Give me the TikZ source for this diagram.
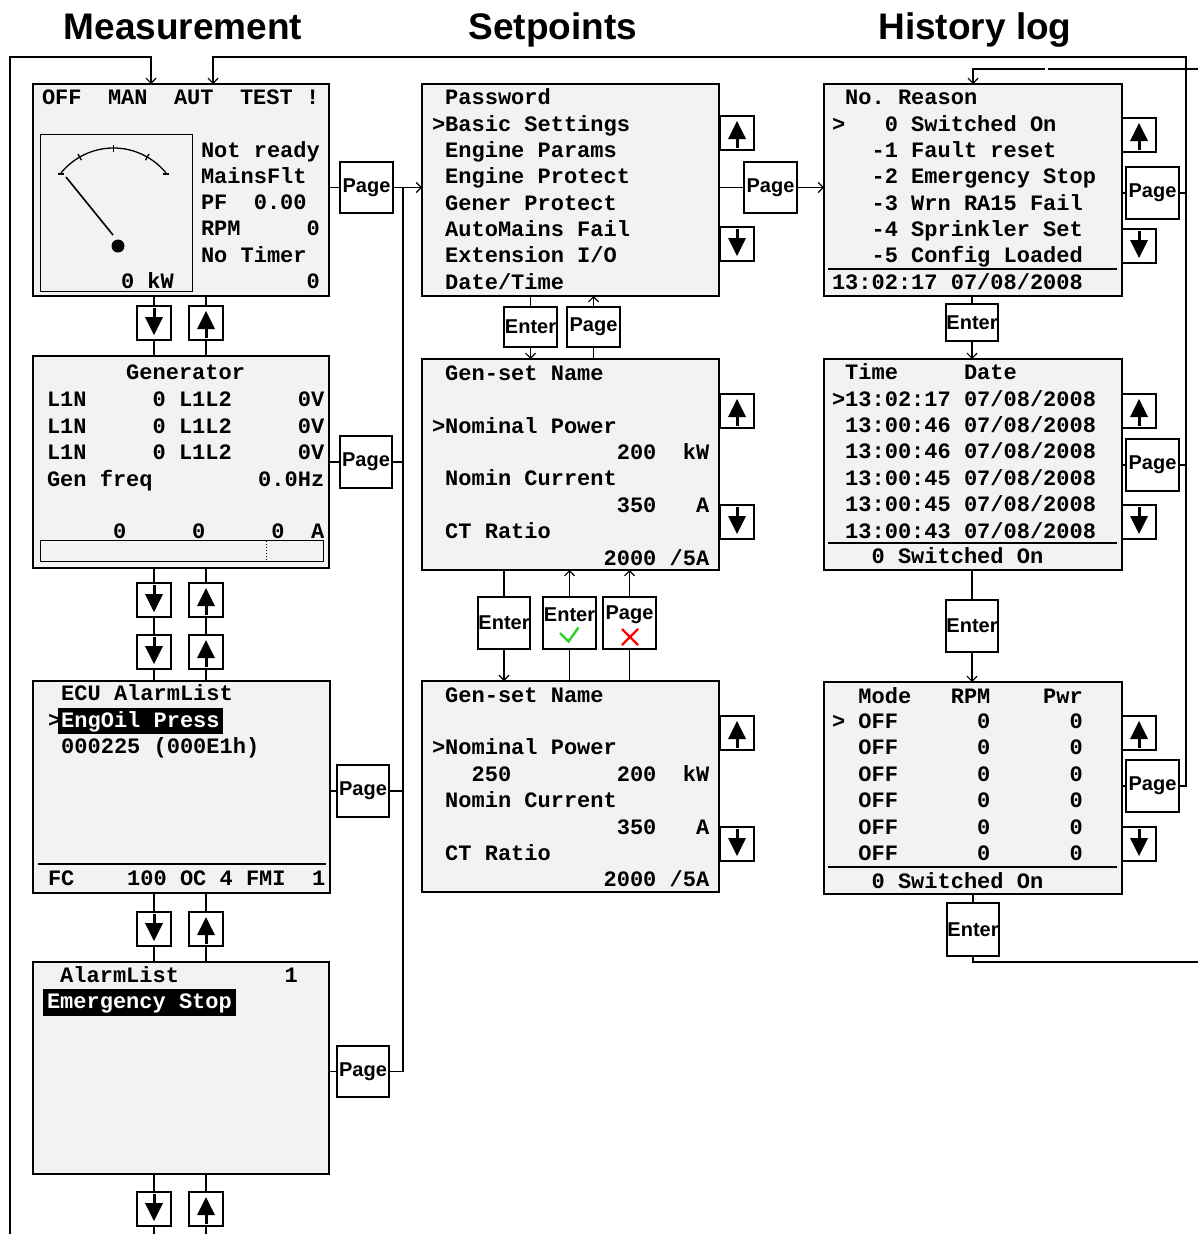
\documentclass[tikz,border=0pt]{standalone}
\usepackage{fontspec}
\setmainfont{Liberation Sans}
\newfontfamily\lcd{Liberation Mono}
\usetikzlibrary{calc,arrows.meta}
\definecolor{lcdgray}{RGB}{242,242,242}
\definecolor{okgreen}{RGB}{40,210,40}
\definecolor{nored}{RGB}{255,0,0}
\newcommand\lcdfont{\lcd\bfseries\fontsize{22}{26}\selectfont}
\newcommand\btnfont{\bfseries\fontsize{20}{24}\selectfont}
\newcommand\titlefont{\bfseries\fontsize{37}{44}\selectfont}
\newcommand\pnl[5]{\node[panelbox,anchor=north west,minimum width=#4pt,minimum height=#5pt] (#1) at (#2,#3) {};}
\newcommand\btn[6]{\node[btnbox,anchor=north west,minimum width=#4pt,minimum height=#5pt] (#1) at (#2,#3) {#6};}
\newcommand\lcdline[4]{\node[mtext] (#1) at (#2,#3) {#4};}
\newcommand\upbtn[3]{\node[btnbox,anchor=north west,minimum width=34pt,minimum height=34pt] (#1) at (#2,#3) {};
  \fill ($(#1.north)+(0,5)$) -- ($(#1.north)+(9,23)$) -- ($(#1.north)+(-9,23)$) -- cycle;
  \draw[line width=3pt] ($(#1.north)+(0,20)$) -- ($(#1.north)+(0,32)$);}
\newcommand\dnbtn[3]{\node[btnbox,anchor=north west,minimum width=34pt,minimum height=34pt] (#1) at (#2,#3) {};
  \fill ($(#1.north)+(0,29)$) -- ($(#1.north)+(9,11)$) -- ($(#1.north)+(-9,11)$) -- cycle;
  \draw[line width=3pt] ($(#1.north)+(0,2)$) -- ($(#1.north)+(0,14)$);}
\begin{document}
\begin{tikzpicture}[x=1pt,y=-1pt,
  panelbox/.style={draw,line width=2.6pt,fill=lcdgray,inner sep=0pt,outer sep=0pt},
  btnbox/.style={draw,line width=1.3pt,fill=white,inner sep=0pt,outer sep=0pt,font=\btnfont},
  conn/.style={line width=1.2pt},
  arr/.style={conn,-{Straight Barb[length=5pt,width=10pt]}},
  mtext/.style={inner sep=0pt,outer sep=0pt,anchor=base west,font=\lcdfont},
  thinline/.style={line width=1.3pt},
  titletext/.style={font=\titlefont,anchor=base,inner sep=0pt}]
\fill[white] (0,0) rectangle (1198,1234);
\useasboundingbox (0,0) rectangle (1198,1234);

% titles
\node[titletext] (title1) at (183,39) {Measurement};
\node[titletext] (title2) at (553,39) {Setpoints};
\node[titletext] (title3) at (975,39) {History log};

% ================= Measurement =================
\pnl{m1}{33}{84}{296}{212}
\node[draw,thinline,fill=lcdgray,anchor=north west,minimum width=152pt,minimum height=157pt,inner sep=0pt] (gauge) at (40,134) {};
\draw[thinline] plot[domain=39:141,samples=50] ({113.5+67.6*cos(\x)},{215.6-67.6*sin(\x)});
\draw[thinline] (58,174) -- (64,174);
\draw[thinline] (163,174) -- (169,174);
\draw[thinline] (81.5,160.2) -- (78,154.1);
\draw[thinline] (113.5,151.6) -- (113.5,144.6);
\draw[thinline] (145.5,160.2) -- (149,154.1);
\draw[line width=1.6pt] (66,177) -- (113,235);
\fill (118,246) circle[radius=6.5pt];
\lcdline{m1a}{42}{104}{OFF~~MAN~~AUT~~TEST~!}
\lcdline{m1b}{201}{157}{Not~ready}
\lcdline{m1c}{201}{183}{MainsFlt}
\lcdline{m1d}{201}{209}{PF~~0.00}
\lcdline{m1e}{201}{235}{RPM~~~~~0}
\lcdline{m1f}{201}{262}{No~Timer}
\lcdline{m1g}{201}{288}{~~~~~~~~0}
\lcdline{m1h}{121}{288}{0~kW}

\pnl{m2}{33}{356}{296}{212}
\lcdline{m2a}{47}{379}{~~~~~~Generator}
\lcdline{m2b}{47}{406}{L1N~~~~~0~L1L2~~~~~0V}
\lcdline{m2c}{47}{433}{L1N~~~~~0~L1L2~~~~~0V}
\lcdline{m2d}{47}{459}{L1N~~~~~0~L1L2~~~~~0V}
\lcdline{m2e}{47}{486}{Gen~freq~~~~~~~~0.0Hz}
\lcdline{m2f}{47}{538}{~~~~~0~~~~~0~~~~~0~~A}
\node[draw,thinline,anchor=north west,minimum width=283pt,minimum height=21pt,inner sep=0pt] (bar) at (40,540) {};
\draw[line width=1pt,dotted] (266,541) -- (266,560);

\pnl{m3}{33}{681}{297}{212}
\lcdline{m3a}{48}{700}{~ECU~AlarmList}
\fill (58,708) rectangle (223,734);
\lcdline{m3b}{48}{727}{>}
\node[mtext,text=white] (m3c) at (61.2,727) {EngOil~Press};
\lcdline{m3d}{48}{753}{~000225~(000E1h)}
\draw[thinline] (38,864) -- (326,864);
\lcdline{m3e}{48}{885}{FC~~~~100~OC~4~FMI~~1}

\pnl{m4}{33}{962}{296}{212}
\lcdline{m4a}{47}{982}{~AlarmList~~~~~~~~1}
\fill (43,989) rectangle (236,1016);
\node[mtext,text=white] (m4b) at (47,1008) {Emergency~Stop};

% measurement up/down buttons
\dnbtn{md1}{137}{306} \upbtn{mu1}{189}{306}
\dnbtn{md2}{137}{583} \upbtn{mu2}{189}{583}
\dnbtn{md3}{137}{635} \upbtn{mu3}{189}{635}
\dnbtn{md4}{137}{912} \upbtn{mu4}{189}{912}
\dnbtn{md5}{137}{1192} \upbtn{mu5}{189}{1192}
\coordinate (bot) at (0,1234);
\foreach \b in {md,mu}{
  \draw[conn] (\b1.north |- m1.south) -- (\b1.north);
  \draw[conn] (\b1.south) -- (\b1.south |- m2.north);
  \draw[conn] (\b2.north |- m2.south) -- (\b2.north);
  \draw[conn] (\b2.south) -- (\b3.north);
  \draw[conn] (\b3.south) -- (\b3.south |- m3.north);
  \draw[conn] (\b4.north |- m3.south) -- (\b4.north);
  \draw[conn] (\b4.south) -- (\b4.south |- m4.north);
  \draw[conn] (\b5.north |- m4.south) -- (\b5.north);
  \draw[conn] (\b5.south) -- (\b5.south |- bot);
}

% measurement page buttons
\btn{mp1}{340}{162}{53}{51}{Page}
\btn{mp2}{340}{436}{52}{52}{Page}
\btn{mp3}{337}{765}{52}{52}{Page}
\btn{mp4}{337}{1046}{52}{51}{Page}
\coordinate (sv) at (403,0);
\draw[conn] (mp1.west -| m1.east) -- (mp1.west);
\draw[conn] (mp2.west -| m2.east) -- (mp2.west);
\draw[conn] (mp3.west -| m3.east) -- (mp3.west);
\draw[conn] (mp4.west -| m4.east) -- (mp4.west);
\draw[conn] (mp2.east) -- (mp2.east -| sv);
\draw[conn] (mp3.east) -- (mp3.east -| sv);
\draw[conn] (mp4.east) -- (mp4.east -| sv);
\draw[conn] (mp1.east -| sv) -- (mp4.east -| sv);

% ================= Setpoints =================
\pnl{s1}{422}{84}{297}{212}
\lcdline{s1a}{432}{104}{~Password}
\lcdline{s1b}{432}{131}{>Basic~Settings}
\lcdline{s1c}{432}{157}{~Engine~Params}
\lcdline{s1d}{432}{183}{~Engine~Protect}
\lcdline{s1e}{432}{210}{~Gener~Protect}
\lcdline{s1f}{432}{236}{~AutoMains~Fail}
\lcdline{s1g}{432}{262}{~Extension~I/O}
\lcdline{s1h}{432}{289}{~Date/Time}

\pnl{s2}{422}{359}{297}{211}
\lcdline{s2a}{432}{380}{~Gen-set~Name}
\lcdline{s2b}{432}{433}{>Nominal~Power}
\lcdline{s2c}{432}{459}{~~~~~~~~~~~~~~200~~kW}
\lcdline{s2d}{432}{485}{~Nomin~Current}
\lcdline{s2e}{432}{512}{~~~~~~~~~~~~~~350~~~A}
\lcdline{s2f}{432}{538}{~CT~Ratio}
\lcdline{s2g}{432}{565}{~~~~~~~~~~~~~2000~/5A}

\pnl{s3}{422}{681}{297}{211}
\lcdline{s3a}{432}{702}{~Gen-set~Name}
\lcdline{s3b}{432}{754}{>Nominal~Power}
\lcdline{s3c}{432}{781}{~~~250~~~~~~~~200~~kW}
\lcdline{s3d}{432}{807}{~Nomin~Current}
\lcdline{s3e}{432}{834}{~~~~~~~~~~~~~~350~~~A}
\lcdline{s3f}{432}{860}{~CT~Ratio}
\lcdline{s3g}{432}{886}{~~~~~~~~~~~~~2000~/5A}

\upbtn{su1}{720}{116} \dnbtn{sd1}{720}{227}
\upbtn{su2}{720}{394} \dnbtn{sd2}{720}{505}
\upbtn{su3}{720}{716} \dnbtn{sd3}{720}{827}

\btn{sp1}{744}{162}{53}{51}{Page}
\draw[conn] (sp1.west -| s1.east) -- (sp1.west);

\btn{se1}{504}{307}{53}{40}{Enter}
\btn{sp2}{567}{307}{53}{40}{Page}
\draw[conn] (se1.north |- s1.south) -- (se1.north);
\draw[arr] (se1.south) -- (se1.south |- s2.north);
\draw[conn] (sp2.south) -- (sp2.south |- s2.north);
\draw[arr] (sp2.north) -- (sp2.north |- s1.south);

\btn{se2}{478}{597}{52}{52}{Enter}
\btn{se3}{543}{597}{53}{52}{}
\btn{sp3}{603}{597}{53}{52}{}
\node[font=\btnfont,inner sep=0pt] (se3t) at ($(se3.center)+(0,-8)$) {Enter};
\node[font=\btnfont,inner sep=0pt] (sp3t) at ($(sp3.center)+(0,-8)$) {Page};
\draw[okgreen,line width=2.4pt] ($(se3.center)+(-9.5,10)$) -- ($(se3.center)+(-1,18.5)$) -- ($(se3.center)+(9,4.5)$);
\draw[nored,line width=2.4pt] ($(sp3.center)+(-7.5,6)$) -- ($(sp3.center)+(8.5,22)$);
\draw[nored,line width=2.4pt] ($(sp3.center)+(8.5,6)$) -- ($(sp3.center)+(-7.5,22)$);
\draw[conn] (se2.north |- s2.south) -- (se2.north);
\draw[arr] (se2.south) -- (se2.south |- s3.north);
\draw[conn] (se3.south) -- (se3.south |- s3.north);
\draw[arr] (se3.north) -- (se3.north |- s2.south);
\draw[conn] (sp3.south) -- (sp3.south |- s3.north);
\draw[arr] (sp3.north) -- (sp3.north |- s2.south);

% ================= History log =================
\pnl{h1}{824}{84}{298}{212}
\lcdline{h1a}{832}{104}{~No.~Reason}
\lcdline{h1b}{832}{131}{>~~~0~Switched~On}
\lcdline{h1c}{832}{157}{~~~-1~Fault~reset}
\lcdline{h1d}{832}{183}{~~~-2~Emergency~Stop}
\lcdline{h1e}{832}{210}{~~~-3~Wrn~RA15~Fail}
\lcdline{h1f}{832}{236}{~~~-4~Sprinkler~Set}
\lcdline{h1g}{832}{262}{~~~-5~Config~Loaded}
\draw[thinline] (828,269) -- (1117,269);
\lcdline{h1h}{832}{289}{13:02:17~07/08/2008}

\pnl{h2}{824}{359}{298}{211}
\lcdline{h2a}{832}{379}{~Time~~~~~Date}
\lcdline{h2b}{832}{406}{>13:02:17~07/08/2008}
\lcdline{h2c}{832}{432}{~13:00:46~07/08/2008}
\lcdline{h2d}{832}{458}{~13:00:46~07/08/2008}
\lcdline{h2e}{832}{485}{~13:00:45~07/08/2008}
\lcdline{h2f}{832}{511}{~13:00:45~07/08/2008}
\lcdline{h2g}{832}{538}{~13:00:43~07/08/2008}
\draw[thinline] (828,543) -- (1117,543);
\lcdline{h2h}{832}{563}{~~~0~Switched~On}

\pnl{h3}{824}{682}{298}{212}
\lcdline{h3a}{832}{703}{~~Mode~~~RPM~~~~Pwr}
\lcdline{h3b}{832}{728}{>~OFF~~~~~~0~~~~~~0}
\lcdline{h3c}{832}{754}{~~OFF~~~~~~0~~~~~~0}
\lcdline{h3d}{832}{781}{~~OFF~~~~~~0~~~~~~0}
\lcdline{h3e}{832}{807}{~~OFF~~~~~~0~~~~~~0}
\lcdline{h3f}{832}{834}{~~OFF~~~~~~0~~~~~~0}
\lcdline{h3g}{832}{860}{~~OFF~~~~~~0~~~~~~0}
\draw[thinline] (828,867) -- (1117,867);
\lcdline{h3h}{832}{888}{~~~0~Switched~On}

\upbtn{hu1}{1122}{118} \dnbtn{hd1}{1122}{229}
\upbtn{hu2}{1122}{394} \dnbtn{hd2}{1122}{505}
\upbtn{hu3}{1122}{716} \dnbtn{hd3}{1122}{827}

\btn{hp1}{1126}{167}{53}{52}{Page}
\btn{hp2}{1126}{439}{53}{52}{Page}
\btn{hp3}{1126}{760}{53}{52}{Page}
\draw[conn] (hp1.west -| h1.east) -- (hp1.west);
\draw[conn] (hp2.west -| h2.east) -- (hp2.west);
\draw[conn] (hp3.west -| h3.east) -- (hp3.west);

\btn{he1}{946}{304}{52}{37}{Enter}
\btn{he2}{946}{600}{52}{52}{Enter}
\btn{he3}{947}{903}{52}{53}{Enter}
\draw[conn] (he1.north |- h1.south) -- (he1.north);
\draw[arr] (he1.south) -- (he1.south |- h2.north);
\draw[conn] (he2.north |- h2.south) -- (he2.north);
\draw[arr] (he2.south) -- (he2.south |- h3.north);
\draw[conn] (he3.north |- h3.south) -- (he3.north);

% Setpoints page -> history
\draw[arr] (sp1.east) -- (sp1.east -| h1.west);
% Measurement page -> setpoints
\draw[arr] (mp1.east) -- (mp1.east -| s1.west);

% loops
\coordinate (lbot) at (10,1234);
\coordinate (ltop) at (10,57);
\draw[arr] (lbot) -- (ltop) -| ([xshift=118pt]m1.north west);
\coordinate (rtop) at (1186,57);
\draw[conn] (hp1.east) -- (hp1.east -| rtop);
\draw[conn] (hp2.east) -- (hp2.east -| rtop);
\draw[arr] (hp3.east) -| (rtop) -| ([xshift=180pt]m1.north west);
\coordinate (rbot) at (1198,962);
\draw[conn] (he3.south) |- (rbot);
\coordinate (rin) at (1198,69);
\coordinate (gapR) at (1048,69);
\coordinate (gapL) at (1045,69);
\draw[conn] (rin) -- (gapR);
\draw[arr] (gapL) -| (h1.north);
\end{tikzpicture}
\end{document}
